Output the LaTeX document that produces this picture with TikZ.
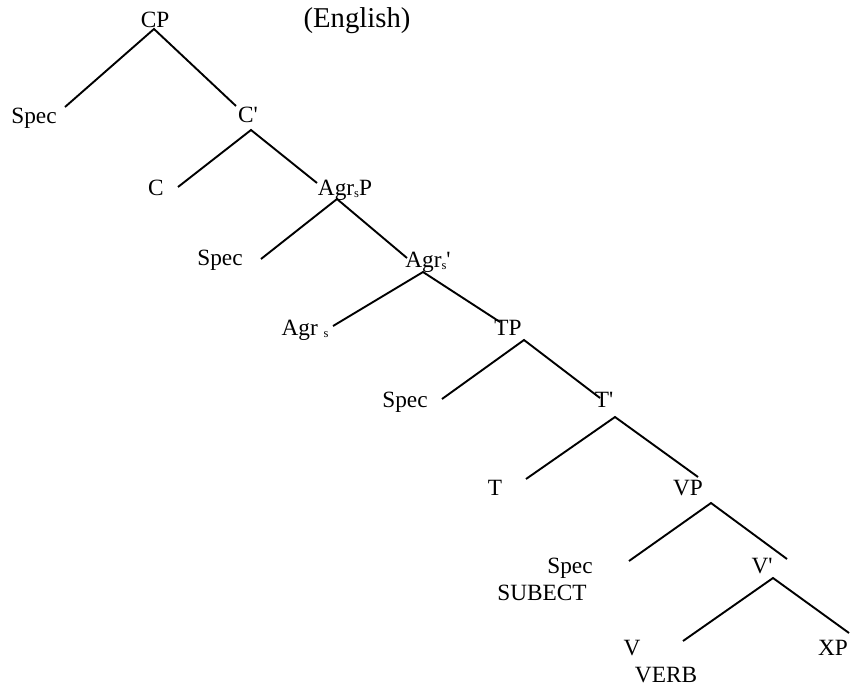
\documentclass[tikz,border=0pt]{standalone}
\usepackage{fontspec}
\setmainfont{Liberation Serif}
\newcommand{\subs}{\raisebox{-0.12em}{\fontsize{12.5}{13}\selectfont s}}
\newcommand{\pr}{\textquotesingle}
\begin{document}
\begin{tikzpicture}[x=1pt,y=-1pt,
  lbl/.style={anchor=base,inner sep=0pt,font=\fontsize{23.3}{28}\selectfont},
  big/.style={anchor=base,inner sep=0pt,font=\fontsize{28.7}{34}\selectfont},
  br/.style={line width=1.9pt,line cap=butt}]
\useasboundingbox (0,0) rectangle (850,688);
% labels
\node[lbl] (cp) at (155,27) {CP};
\node[big] (eng) at (357,27) {(English)};
\node[lbl] (spec1) at (34,123) {Spec};
\node[lbl] (cbar) at (248,122) {C\pr};
\node[lbl] (c) at (156,195) {C};
\node[lbl] (agrsp) at (345,195) {Agr\subs P};
\node[lbl] (spec2) at (220,265) {Spec};
\node[lbl] (agrsbar) at (428,267) {Agr\subs\pr};
\node[lbl] (agrs) at (305,335) {Agr \subs};
\node[lbl] (tp) at (508,335) {TP};
\node[lbl] (spec3) at (405,407) {Spec};
\node[lbl] (tbar) at (604,407) {T\pr};
\node[lbl] (t) at (495,495) {T};
\node[lbl] (vp) at (688,495) {VP};
\node[lbl] (spec4) at (570,573) {Spec};
\node[lbl] (subj) at (542,600) {SUBECT};
\node[lbl] (vbar) at (762,573) {V\pr};
\node[lbl] (v) at (632,655) {V};
\node[lbl] (xp) at (833,655) {XP};
\node[lbl] (verb) at (666,682) {VERB};
% branch points
\coordinate (cpA) at (154,29);
\coordinate (cpL) at (65,107);
\coordinate (cpR) at (236,106);
\coordinate (cbA) at (251,130);
\coordinate (cbL) at (178,187);
\coordinate (cbR) at (317,183);
\coordinate (apA) at (337,199);
\coordinate (apL) at (261,259);
\coordinate (apR) at (407,258);
\coordinate (abA) at (423,272);
\coordinate (abL) at (333,326);
\coordinate (abR) at (500,322);
\coordinate (tpA) at (524,340);
\coordinate (tpL) at (442,399);
\coordinate (tpR) at (600,398);
\coordinate (tbA) at (615,417);
\coordinate (tbL) at (526,479);
\coordinate (tbR) at (698,477);
\coordinate (vpA) at (711,503);
\coordinate (vpL) at (629,561);
\coordinate (vpR) at (787,559);
\coordinate (vbA) at (773,578);
\coordinate (vbL) at (683,641);
\coordinate (vbR) at (849,633);
% branches
\draw[br] (cpL) -- (cpA) -- (cpR);
\draw[br] (cbL) -- (cbA) -- (cbR);
\draw[br] (apL) -- (apA) -- (apR);
\draw[br] (abL) -- (abA) -- (abR);
\draw[br] (tpL) -- (tpA) -- (tpR);
\draw[br] (tbL) -- (tbA) -- (tbR);
\draw[br] (vpL) -- (vpA) -- (vpR);
\draw[br] (vbL) -- (vbA) -- (vbR);
\end{tikzpicture}
\end{document}
